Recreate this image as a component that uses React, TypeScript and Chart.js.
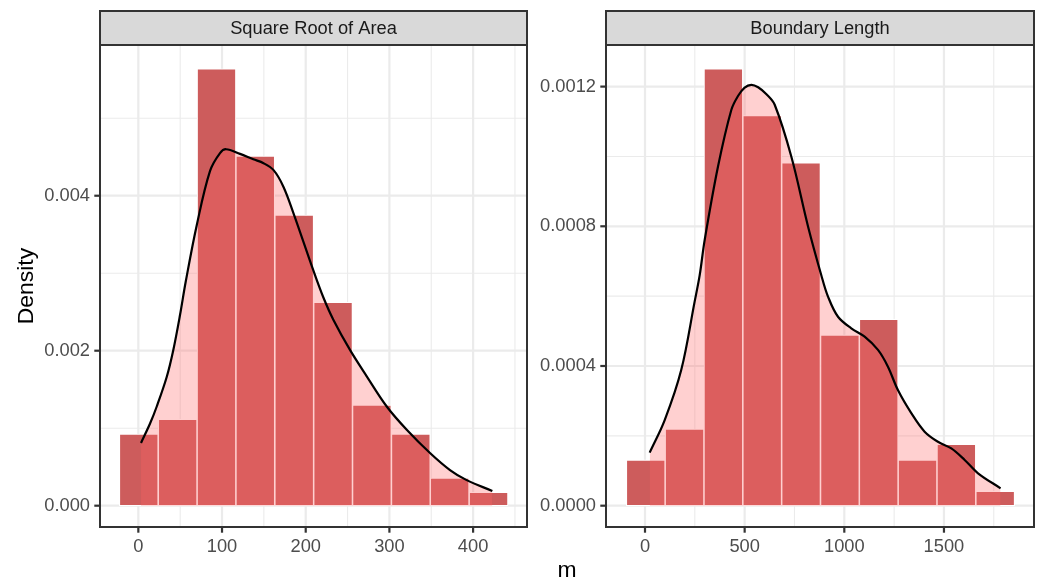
import React, { useEffect, useRef } from "react";
import { Chart, registerables } from "chart.js";

Chart.register(...registerables);

const FONT = "'Liberation Sans', Arial, Helvetica, sans-serif";

// ---------- Panel 1: Square Root of Area ----------
const areaTitle = "Square Root of Area";
const areaBinCenters = [0.5, 47.0, 93.4, 139.8, 186.3, 232.7, 279.1, 325.6, 372.0, 418.5];
const areaBinDensity = [0.000925, 0.001115, 0.005639, 0.004512, 0.003751, 0.002624, 0.001299, 0.000925, 0.000357, 0.000173];
const areaCurveX = [3.2, 14, 22, 33.9, 41.8, 49.8, 56.6, 69.8, 85.7, 97.6, 104.8, 121.5, 137.4, 149.6, 161.6, 173.2, 185.2, 209, 221, 233, 252.9, 272.9, 296.8, 320.7, 348.5, 372.4, 392.3, 423];
const areaCurveY = [0.00081, 0.00106, 0.00128, 0.00166, 0.00201, 0.00246, 0.00289, 0.00362, 0.00432, 0.00455, 0.0046, 0.00454, 0.00447, 0.00442, 0.00433, 0.00412, 0.00378, 0.00304, 0.00269, 0.0024, 0.00201, 0.00167, 0.00128, 0.00098, 0.00068, 0.00046, 0.00033, 0.00019];
const areaXTicks = [0, 100, 200, 300, 400];
const areaXTickLabels = ["0", "100", "200", "300", "400"];
const areaXMinor = [50, 150, 250, 350, 450];
const areaYTicks = [0, 0.002, 0.004];
const areaYTickLabels = ["0.000", "0.002", "0.004"];
const areaYMinor = [0.001, 0.003, 0.005];
const areaXRange = [-45.8, 464.4];
const areaYRange = [-0.000275, 0.005945];

// ---------- Panel 2: Boundary Length ----------
const lengthTitle = "Boundary Length";
const lengthBinCenters = [3.6, 198.5, 393.3, 588.2, 783.0, 977.9, 1172.7, 1367.6, 1562.4, 1757.3];
const lengthBinDensity = [0.000131, 0.00022, 0.001251, 0.001117, 0.000982, 0.000489, 0.000534, 0.000131, 0.000176, 0.0000412];
const lengthCurveX = [23.5, 98.8, 182, 249.3, 274.4, 299.5, 366.3, 433, 466.6, 500, 533.4, 567.6, 609.4, 650.8, 734.4, 818.3, 884.6, 918.7, 968.4, 1035, 1102, 1169, 1219, 1269, 1336, 1403, 1470, 1537, 1604, 1671, 1784];
const lengthCurveY = [0.000152, 0.000245, 0.000389, 0.000585, 0.00066, 0.000761, 0.000971, 0.001133, 0.001173, 0.001197, 0.001205, 0.001198, 0.001178, 0.001148, 0.000999, 0.000799, 0.00066, 0.000598, 0.000541, 0.000508, 0.000484, 0.000446, 0.000398, 0.000331, 0.000265, 0.000212, 0.000183, 0.000164, 0.000131, 0.0000928, 0.0000498];
const lengthXTicks = [0, 500, 1000, 1500];
const lengthXTickLabels = ["0", "500", "1000", "1500"];
const lengthXMinor = [250, 750, 1250, 1750];
const lengthYTicks = [0, 0.0004, 0.0008, 0.0012];
const lengthYTickLabels = ["0.0000", "0.0004", "0.0008", "0.0012"];
const lengthYMinor = [0.0002, 0.0006, 0.001];
const lengthXRange = [-195.7, 1951.8];
const lengthYRange = [-0.000061, 0.0013191];

const yAxisTitle = "Density";
const xAxisTitle = "m";

type Extra = (ctx: CanvasRenderingContext2D) => void;

const decorPlugin = {
  id: "panelDecor",
  beforeDatasetsDraw(chart: any, _args: any, opts: any) {
    const { ctx, chartArea: a, scales } = chart;
    const x = scales.x;
    const y = scales.y;
    ctx.save();
    ctx.strokeStyle = "#EBEBEB";
    const vline = (v: number) => {
      const p = x.getPixelForValue(v);
      if (p < a.left || p > a.right) return;
      ctx.beginPath();
      ctx.moveTo(p, a.top);
      ctx.lineTo(p, a.bottom);
      ctx.stroke();
    };
    const hline = (v: number) => {
      const p = y.getPixelForValue(v);
      if (p < a.top || p > a.bottom) return;
      ctx.beginPath();
      ctx.moveTo(a.left, p);
      ctx.lineTo(a.right, p);
      ctx.stroke();
    };
    ctx.lineWidth = 1.1;
    opts.xMinor.forEach(vline);
    opts.yMinor.forEach(hline);
    ctx.lineWidth = 2.2;
    opts.xMajor.forEach(vline);
    opts.yMajor.forEach(hline);
    ctx.restore();
  },
  afterDatasetsDraw(chart: any, _args: any, opts: any) {
    const { ctx, chartArea: a, scales } = chart;
    const x = scales.x;
    const y = scales.y;
    ctx.save();
    // panel border
    ctx.strokeStyle = "#333333";
    ctx.lineWidth = 2;
    ctx.strokeRect(a.left, a.top, a.right - a.left, a.bottom - a.top);
    // tick marks
    ctx.lineWidth = 2.2;
    const tl = 5.7;
    opts.xMajor.forEach((v: number) => {
      const p = x.getPixelForValue(v);
      ctx.beginPath();
      ctx.moveTo(p, a.bottom);
      ctx.lineTo(p, a.bottom + tl);
      ctx.stroke();
    });
    opts.yMajor.forEach((v: number) => {
      const p = y.getPixelForValue(v);
      ctx.beginPath();
      ctx.moveTo(a.left, p);
      ctx.lineTo(a.left - tl, p);
      ctx.stroke();
    });
    // strip
    const stripTop = 11;
    ctx.fillStyle = "#D9D9D9";
    ctx.fillRect(a.left, stripTop, a.right - a.left, a.top - stripTop);
    ctx.strokeStyle = "#333333";
    ctx.lineWidth = 2;
    ctx.strokeRect(a.left, stripTop, a.right - a.left, a.top - stripTop);
    ctx.fillStyle = "#1A1A1A";
    ctx.font = `18.3px ${FONT}`;
    ctx.textAlign = "center";
    ctx.textBaseline = "middle";
    ctx.fillText(opts.title, (a.left + a.right) / 2, (stripTop + a.top) / 2 + 1);
    ctx.restore();
    if (opts.extra) {
      ctx.save();
      (opts.extra as Extra)(ctx);
      ctx.restore();
    }
  },
};

type Spec = {
  title: string;
  centers: number[];
  dens: number[];
  cx: number[];
  cy: number[];
  xTicks: number[];
  xLabels: string[];
  xMinor: number[];
  yTicks: number[];
  yLabels: string[];
  yMinor: number[];
  xRange: number[];
  yRange: number[];
  yAxisWidth: number;
  padRight: number;
  extra?: Extra;
};

function makeChart(canvas: HTMLCanvasElement, s: Spec) {
  const tickFont = { family: FONT, size: 18.3 };
  return new Chart(canvas, {
    type: "bar",
    data: {
      datasets: [
        {
          type: "bar",
          data: s.centers.map((c, i) => ({ x: c, y: s.dens[i] })) as any,
          backgroundColor: "#CD5C5C",
          borderColor: "#FFFFFF",
          borderWidth: 1.1,
          borderSkipped: false,
          barPercentage: 1,
          categoryPercentage: 1,
          order: 2,
        } as any,
        {
          type: "line",
          data: s.cx.map((v, i) => ({ x: v, y: s.cy[i] })) as any,
          borderColor: "#000000",
          borderWidth: 2.2,
          backgroundColor: "rgba(255,99,99,0.3)",
          fill: "origin",
          pointRadius: 0,
          tension: 0.35,
          order: 1,
        } as any,
      ],
    },
    options: {
      responsive: false,
      animation: false,
      devicePixelRatio: 1,
      layout: { padding: { top: 45, right: s.padRight, bottom: 0, left: 0 } },
      plugins: {
        legend: { display: false },
        tooltip: { enabled: false },
        panelDecor: {
          title: s.title,
          xMajor: s.xTicks,
          xMinor: s.xMinor,
          yMajor: s.yTicks,
          yMinor: s.yMinor,
          extra: s.extra,
        },
      } as any,
      scales: {
        x: {
          type: "linear",
          min: s.xRange[0],
          max: s.xRange[1],
          offset: false,
          grid: { display: false, drawTicks: false },
          border: { display: false },
          afterBuildTicks: (scale: any) => {
            scale.ticks = s.xTicks.map((v) => ({ value: v }));
          },
          afterFit: (scale: any) => {
            scale.height = 54;
          },
          ticks: {
            autoSkip: false,
            maxRotation: 0,
            padding: 8.5,
            color: "#4D4D4D",
            font: tickFont,
            callback: (_v: any, i: number) => s.xLabels[i],
          },
        },
        y: {
          type: "linear",
          min: s.yRange[0],
          max: s.yRange[1],
          grid: { display: false, drawTicks: false },
          border: { display: false },
          afterBuildTicks: (scale: any) => {
            scale.ticks = s.yTicks.map((v) => ({ value: v }));
          },
          afterFit: (scale: any) => {
            scale.width = s.yAxisWidth;
          },
          ticks: {
            autoSkip: false,
            padding: 10,
            color: "#4D4D4D",
            font: tickFont,
            callback: (_v: any, i: number) => s.yLabels[i],
          },
        },
      },
    } as any,
    plugins: [decorPlugin as any],
  });
}

export default function App() {
  const leftRef = useRef<HTMLCanvasElement>(null);
  const rightRef = useRef<HTMLCanvasElement>(null);

  useEffect(() => {
    const c1 = makeChart(leftRef.current!, {
      title: areaTitle,
      centers: areaBinCenters,
      dens: areaBinDensity,
      cx: areaCurveX,
      cy: areaCurveY,
      xTicks: areaXTicks,
      xLabels: areaXTickLabels,
      xMinor: areaXMinor,
      yTicks: areaYTicks,
      yLabels: areaYTickLabels,
      yMinor: areaYMinor,
      xRange: areaXRange,
      yRange: areaYRange,
      yAxisWidth: 100,
      padRight: 13,
      extra: (ctx) => {
        ctx.translate(33, 286);
        ctx.rotate(-Math.PI / 2);
        ctx.fillStyle = "#000000";
        ctx.font = `22.9px ${FONT}`;
        ctx.textAlign = "center";
        ctx.textBaseline = "alphabetic";
        ctx.fillText(yAxisTitle, 0, 0);
      },
    });
    const c2 = makeChart(rightRef.current!, {
      title: lengthTitle,
      centers: lengthBinCenters,
      dens: lengthBinDensity,
      cx: lengthCurveX,
      cy: lengthCurveY,
      xTicks: lengthXTicks,
      xLabels: lengthXTickLabels,
      xMinor: lengthXMinor,
      yTicks: lengthYTicks,
      yLabels: lengthYTickLabels,
      yMinor: lengthYMinor,
      xRange: lengthXRange,
      yRange: lengthYRange,
      yAxisWidth: 66,
      padRight: 4,
      extra: (ctx) => {
        ctx.fillStyle = "#000000";
        ctx.font = `22.9px ${FONT}`;
        ctx.textAlign = "center";
        ctx.textBaseline = "alphabetic";
        ctx.fillText(xAxisTitle, 27, 577);
      },
    });
    return () => {
      c1.destroy();
      c2.destroy();
    };
  }, []);

  return (
    <div style={{ position: "absolute", left: 0, top: 0, width: 1038, height: 581, background: "#FFFFFF" }}>
      <canvas ref={leftRef} width={540} height={581} style={{ position: "absolute", left: 0, top: 0 }} />
      <canvas ref={rightRef} width={498} height={581} style={{ position: "absolute", left: 540, top: 0 }} />
    </div>
  );
}
